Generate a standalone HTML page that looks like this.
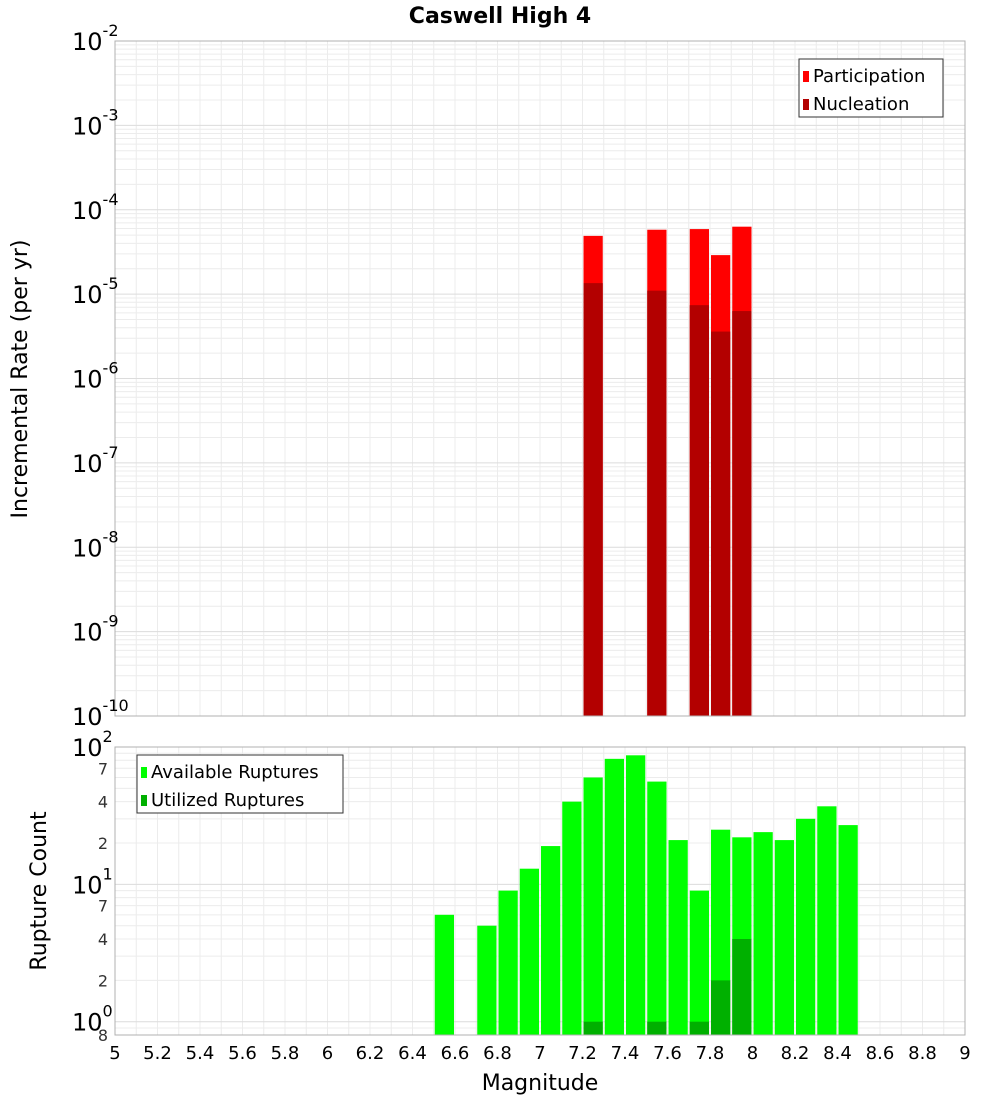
<!DOCTYPE html>
<html><head><meta charset="utf-8"><style>
body{margin:0;background:#fff;font-family:"DejaVu Sans","Liberation Sans",sans-serif;}
svg text{font-family:"DejaVu Sans","Liberation Sans",sans-serif;}
</style></head><body>
<svg id="c" width="1000" height="1100" xmlns="http://www.w3.org/2000/svg"></svg>
<script>
const topMags=[7.25,7.55,7.75,7.85,7.95];
const partRates=[4.9e-5,5.8e-5,5.9e-5,2.9e-5,6.3e-5];
const nuclRates=[1.35e-5,1.1e-5,7.4e-6,3.6e-6,6.3e-6];
const botMags=[6.55,6.75,6.85,6.95,7.05,7.15,7.25,7.35,7.45,7.55,7.65,7.75,7.85,7.95,8.05,8.15,8.25,8.35,8.45];
const availCounts=[6,5,9,13,19,40,60,82,87,56,21,9,25,22,24,21,30,37,27];
const utilMags=[7.25,7.55,7.75,7.85,7.95];
const utilCounts=[1,1,1,2,4];
const xTicks=[5,5.2,5.4,5.6,5.8,6,6.2,6.4,6.6,6.8,7,7.2,7.4,7.6,7.8,8,8.2,8.4,8.6,8.8,9];
const topExps=[-2,-3,-4,-5,-6,-7,-8,-9,-10];
const botMinorLabels=[70,40,20,7,4,2];

const NS="http://www.w3.org/2000/svg";
const svg=document.getElementById('c');
function el(t,a,p){const e=document.createElementNS(NS,t);for(const k in a)e.setAttribute(k,a[k]);(p||svg).appendChild(e);return e;}
const X0=115,X1=965;
const xs=m=>X0+(m-5)/4*(X1-X0);
const T0=41,T1=716;
const ty=v=>T0+(-2-Math.log10(v))/8*(T1-T0);
const B0=747,B1=1035;
const by=v=>B0+(2-Math.log10(v))/(2-Math.log10(0.8))*(B1-B0);
const bw=21.25;

// title
let t=el('text',{x:500,y:23,'text-anchor':'middle','font-size':22,'font-weight':'bold'});t.textContent='Caswell High 4';


// plot backgrounds & grids
function grid(y0,y1,yfn,lo,hi,name){
  const g=el('g',{});
  for(let m=5;m<=9.001;m+=0.1){const x=xs(m);el('line',{x1:x,x2:x,y1:y0,y2:y1,stroke:'#ececec','stroke-width':1},g);}
  for(let e=lo;e<hi;e++)for(let k=1;k<10;k++){const v=k*Math.pow(10,e);const y=yfn(v);if(y<y0||y>y1)continue;el('line',{x1:X0,x2:X1,y1:y,y2:y,stroke:k==1?'#dcdcdc':'#ececec','stroke-width':1},g);}
}
grid(T0,T1,ty,-10,-2,'top');
grid(B0,B1,by,-1,2,'bottom');

// top bars
const tb=el('g',{});
topMags.forEach((m,i)=>{
  let r=el('rect',{x:xs(m)-bw/2+1,y:ty(partRates[i]),width:bw-2,height:T1-ty(partRates[i]),fill:'#ff0000'},tb);
  
  r=el('rect',{x:xs(m)-bw/2+1,y:ty(nuclRates[i]),width:bw-2,height:T1-ty(nuclRates[i]),fill:'#b30000'},tb);
  
});
// bottom bars
const bb=el('g',{});
botMags.forEach((m,i)=>{
  const r=el('rect',{x:xs(m)-bw/2+1,y:by(availCounts[i]),width:bw-2,height:B1-by(availCounts[i]),fill:'#00ff00'},bb);
  
});
utilMags.forEach((m,i)=>{
  const r=el('rect',{x:xs(m)-bw/2+1,y:by(utilCounts[i]),width:bw-2,height:B1-by(utilCounts[i]),fill:'#00b000'},bb);
  
});

// frames
el('rect',{x:X0,y:T0,width:X1-X0,height:T1-T0,fill:'none',stroke:'#b0b0b0'});
el('rect',{x:X0,y:B0,width:X1-X0,height:B1-B0,fill:'none',stroke:'#b0b0b0'});

// top y ticks
topExps.forEach(e=>{
  const y=ty(Math.pow(10,e));
  const tx=el('text',{x:72,y:y+9,'font-size':24});
  
  tx.appendChild(document.createTextNode('10'));
  const s=el('tspan',{dy:-14,'font-size':16},tx);s.textContent=String(e);
});
// bottom y ticks
[[100,'2'],[10,'1'],[1,'0']].forEach(([v,e])=>{
  const y=by(v);
  const tx=el('text',{x:72,y:y+9,'font-size':24});
  
  tx.appendChild(document.createTextNode('10'));
  const s=el('tspan',{dy:-14,'font-size':16},tx);s.textContent=e;
});
botMinorLabels.forEach(v=>{
  const tx=el('text',{x:108,y:by(v)+6,'font-size':16,'text-anchor':'end',fill:'#333'});tx.textContent=String(v%10==0?v/10:v);
  
});
t=el('text',{x:108,y:1041,'font-size':16,'text-anchor':'end',fill:'#333'});t.textContent='8';


// x ticks
xTicks.forEach(m=>{
  const tx=el('text',{x:xs(m),y:1059,'font-size':18,'text-anchor':'middle'});tx.textContent=String(m);
  
});
t=el('text',{x:540,y:1090,'font-size':22,'text-anchor':'middle'});t.textContent='Magnitude';

t=el('text',{x:0,y:0,'font-size':22,'text-anchor':'middle',transform:'translate(27,379) rotate(-90)'});t.textContent='Incremental Rate (per yr)';

t=el('text',{x:0,y:0,'font-size':22,'text-anchor':'middle',transform:'translate(46,891) rotate(-90)'});t.textContent='Rupture Count';


// legends
function legend(x,y,w,items,name){
  const g=el('g',{});
  el('rect',{x:x,y:y,width:w,height:58,fill:'#fff',stroke:'#333'},g);
  items.forEach(([lab,col],i)=>{
    el('rect',{x:x+4,y:y+12+i*28,width:6,height:11,fill:col},g);
    const tx=el('text',{x:x+14,y:y+23+i*28,'font-size':18},g);tx.textContent=lab;
    
  });
}
legend(799,59,144,[['Participation','#ff0000'],['Nucleation','#b30000']],'top-legend');
legend(137,755,206,[['Available Ruptures','#00ff00'],['Utilized Ruptures','#00b000']],'bottom-legend');
</script>
</body></html>
